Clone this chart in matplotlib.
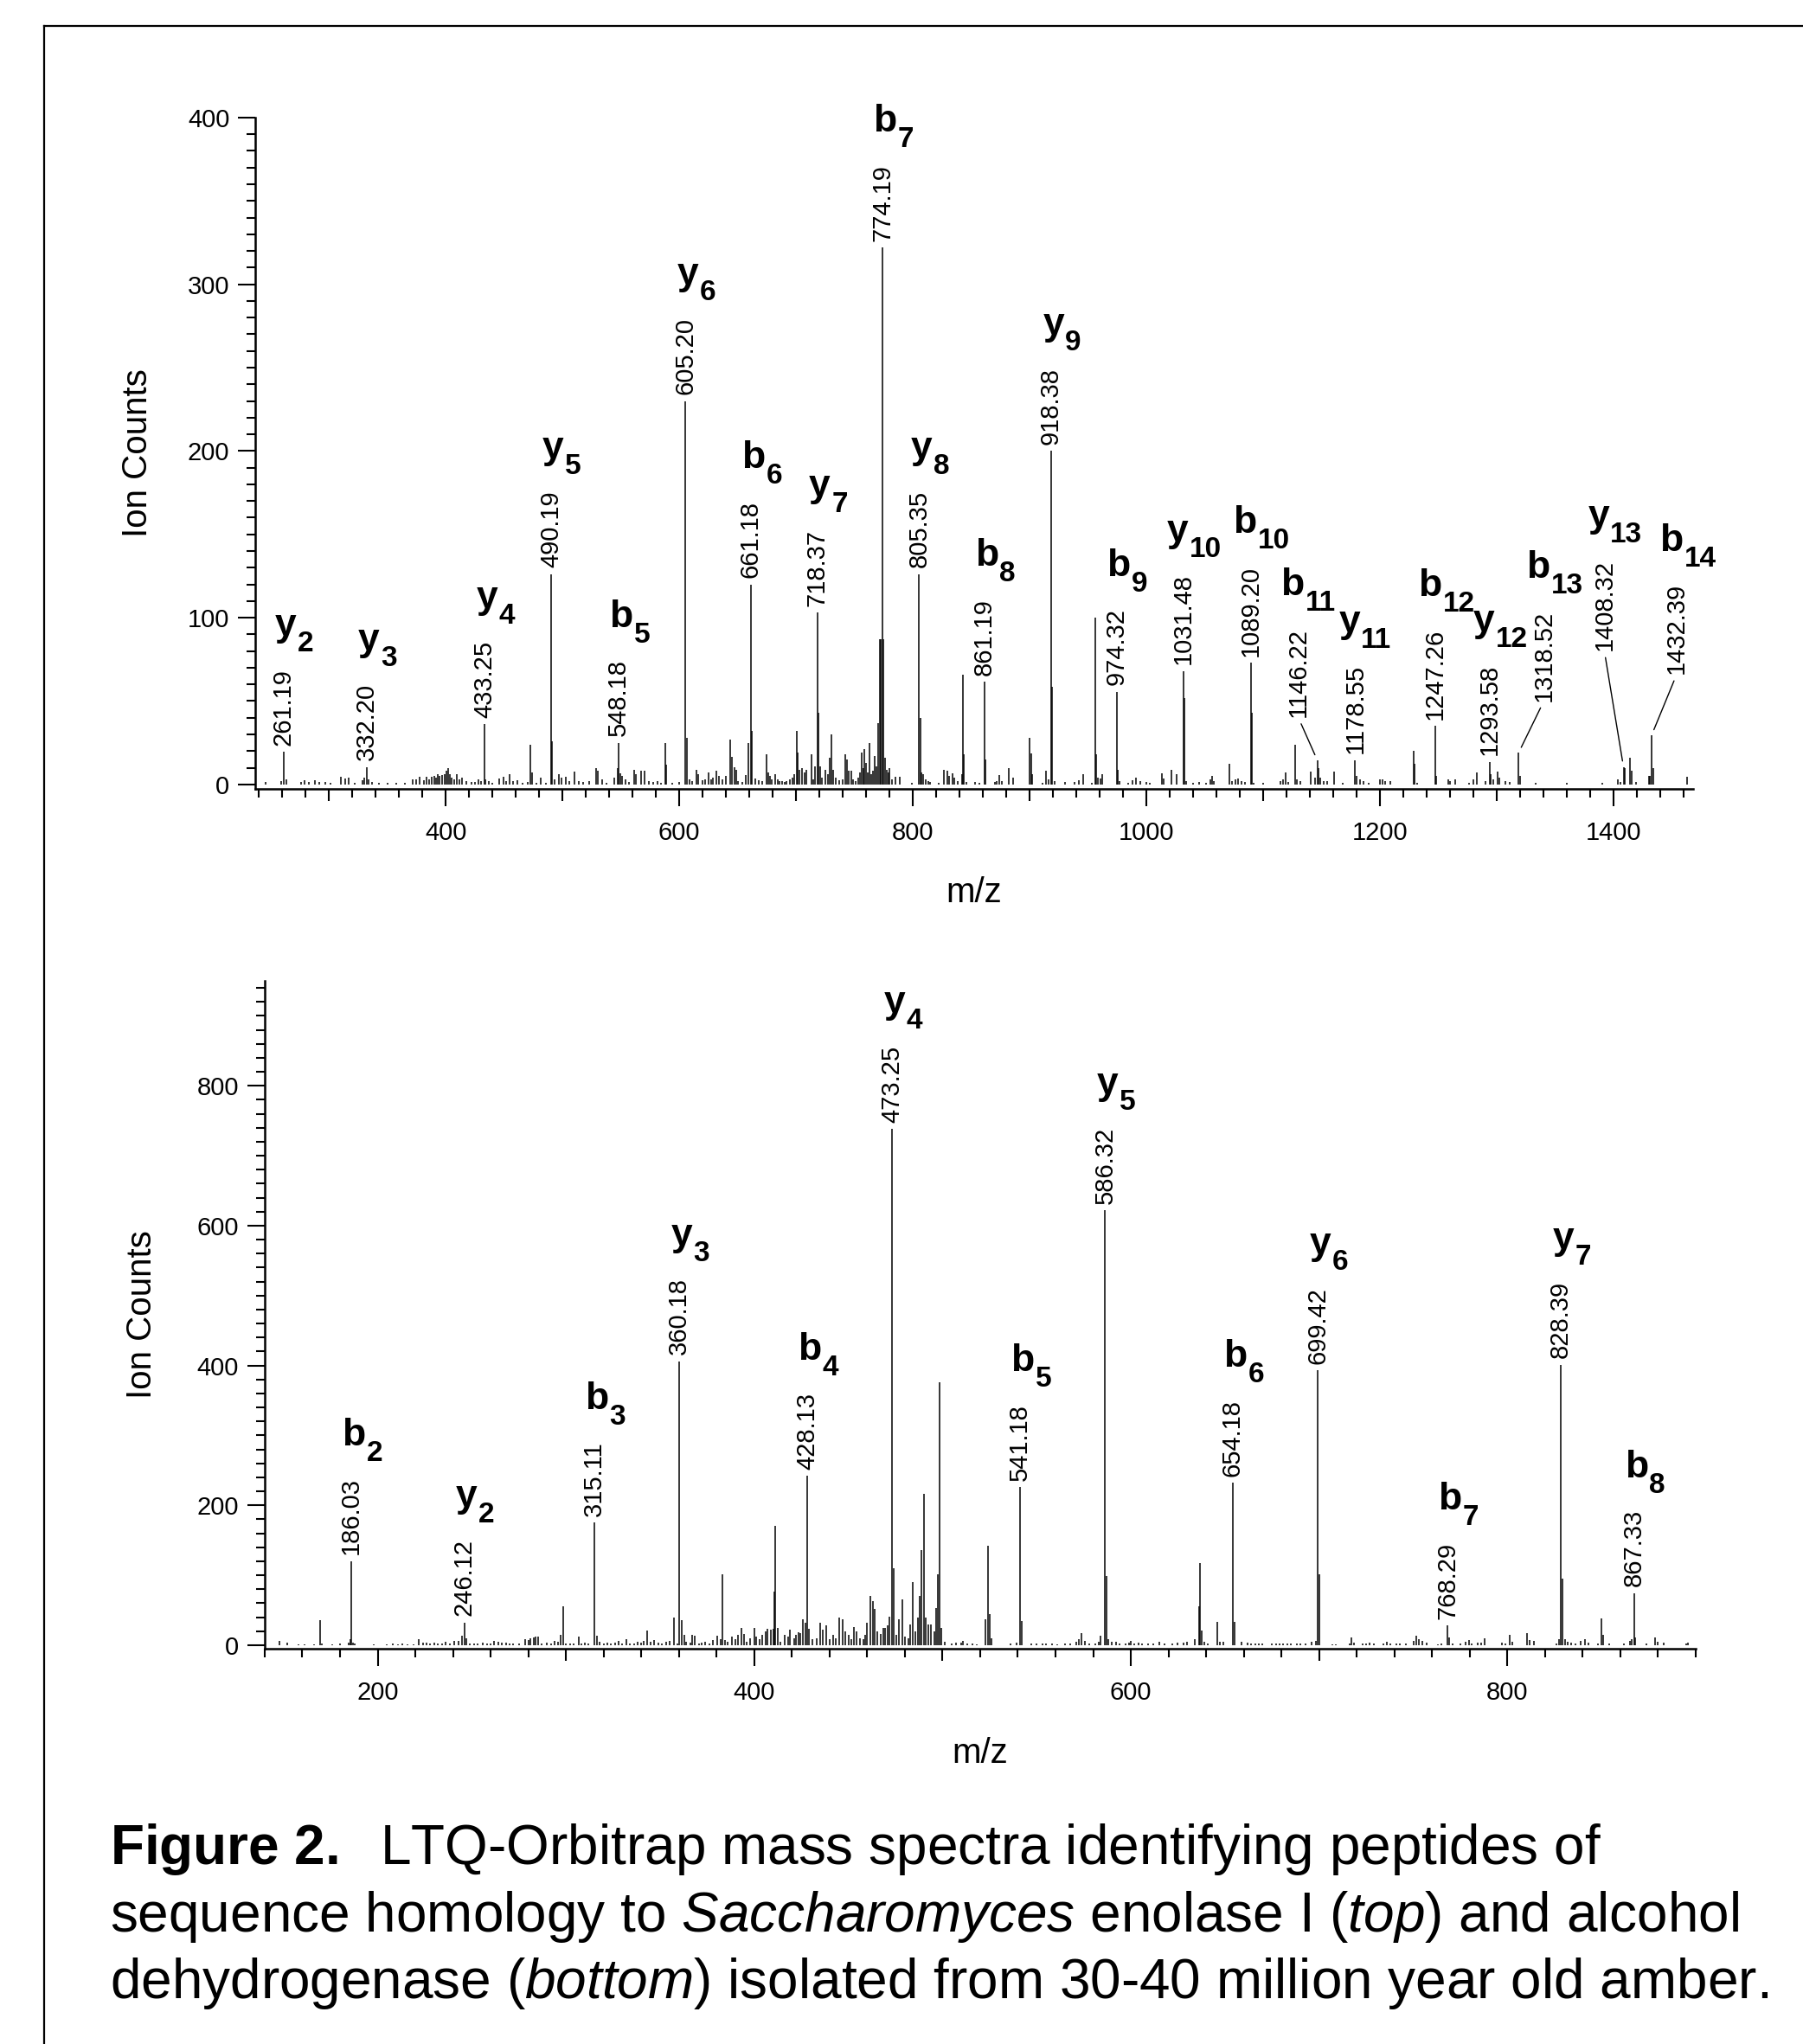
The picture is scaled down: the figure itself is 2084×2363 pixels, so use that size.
import matplotlib
matplotlib.use('Agg')
import matplotlib.pyplot as plt
from matplotlib.lines import Line2D
from matplotlib.text import Text
from matplotlib.ticker import MultipleLocator, FixedLocator, FuncFormatter

plt.rcParams['font.family'] = ['Liberation Sans', 'DejaVu Sans']
plt.rcParams['mathtext.fontset'] = 'custom'
plt.rcParams['mathtext.rm'] = 'Liberation Sans'
plt.rcParams['mathtext.it'] = 'Liberation Sans:italic'
plt.rcParams['mathtext.bf'] = 'Liberation Sans:bold'

# --- top spectrum (enolase peptide) ---
top_mz = [245.6, 259.5, 261.19, 263.5, 276, 279, 283, 288, 292, 297,
          301, 310.5, 314, 317, 322, 328.5, 330.5, 332.20, 334, 337,
          343, 350, 358, 365, 372, 375, 378, 381, 383.6, 386,
          388, 390, 392, 393.5, 395, 397, 399, 400.5, 401.9, 403.5,
          405, 407, 409.8, 412, 414, 418, 422, 425, 428, 430,
          433.25, 434.2, 437, 440, 446, 449.8, 452, 455, 458, 461,
          466, 470, 472.8, 474, 478, 481, 486, 490.19, 490.9, 493,
          496.7, 499, 502.8, 506, 510, 514, 518, 523, 528.5, 530,
          534, 538, 544, 547, 548.18, 549.5, 551, 554, 557, 561,
          563, 567.4, 570, 574, 578, 581, 584, 588, 589, 594,
          600, 605.20, 606.2, 609, 611, 614.6, 616.5, 620, 622, 625,
          627, 629, 631.8, 634, 637, 640, 643.7, 645, 647, 648.4,
          650, 654, 657, 659, 661.18, 662.2, 665, 668, 671, 674.9,
          675.8, 677.5, 679, 682, 684, 686, 688, 690, 692, 695,
          697, 698.7, 700.5, 701.3, 703, 705.3, 707, 709, 713.2, 715,
          716.5, 718.37, 719.2, 720.3, 722, 725, 727, 729, 730.4, 731.5,
          734, 737, 740, 742.3, 743.6, 745, 747, 749, 751, 753,
          755, 756, 757.5, 758.7, 760, 761.5, 762.7, 764.5, 766, 767,
          768.5, 770, 771.4, 772.8, 774.19, 774.9, 776, 777.5, 779, 780,
          782, 784.7, 789, 799, 805.35, 806.2, 807.5, 809, 811, 813,
          815, 822, 826.5, 829.6, 831, 833.6, 835.5, 838, 842, 843.1,
          843.9, 846, 853, 857, 861.19, 862, 870, 872, 874, 876,
          882, 886, 899.7, 901, 902.3, 911, 913.8, 916, 918.38, 919.1,
          921, 930, 938, 942, 946, 953, 955.8, 957, 958.2, 960.5,
          962, 974.32, 975.1, 977, 984, 988, 991, 995, 1000, 1003,
          1013, 1015, 1021.4, 1026, 1031.48, 1032.3, 1034, 1040, 1045, 1051,
          1055, 1056, 1057.5, 1070.6, 1073, 1076, 1078, 1081, 1084, 1089.20,
          1090.2, 1092, 1100, 1115, 1117, 1119, 1121.5, 1127.4, 1129, 1132,
          1140.3, 1144, 1146.22, 1147.2, 1149, 1152, 1155, 1160.4, 1168, 1178.55,
          1179.5, 1183, 1186, 1190, 1200, 1202, 1204, 1209, 1229, 1229.8,
          1232, 1247.26, 1248.2, 1258, 1260, 1264, 1276, 1280, 1282.4, 1290,
          1293.58, 1294.5, 1297, 1300.3, 1302, 1307, 1311, 1318.52, 1319.5, 1333,
          1360, 1390, 1403.7, 1406, 1408.32, 1409.5, 1413.6, 1415, 1419, 1430,
          1431, 1432.39, 1434, 1462.7]
top_int = [1.5, 2, 19.5, 3, 1.5, 2.5, 1.5, 2.5, 1.5, 1.5,
           1, 4.5, 3.5, 4, 1, 2.7, 4, 10.5, 3, 1.5,
           0.8, 0.8, 0.8, 1, 3, 3, 4.5, 2.5, 4.5, 3,
           4.5, 5, 4, 6, 5, 5.5, 6, 8, 10, 6,
           4, 3, 6, 3, 4, 2, 1.5, 1.5, 3, 2,
           36, 3, 2, 1, 3.5, 4.5, 2, 6, 2, 2.5,
           1, 1.5, 24, 7, 1, 4, 1, 126, 26, 3,
           6, 4, 4.5, 2, 7.5, 2, 1.5, 2, 10, 8,
           3, 1, 4, 10, 25, 6.5, 5, 3, 1.5, 9,
           6, 8, 8, 2, 1.5, 2, 1, 25, 12, 1,
           1.5, 230, 28, 3, 2, 9, 6, 2.5, 3, 7,
           3, 4, 8, 5, 3, 5, 27, 16.6, 10.5, 8.5,
           2, 1.5, 5.8, 25, 120, 32, 3.5, 2.5, 2, 18,
           7, 5, 3, 6, 3, 2, 2, 1.5, 2, 3,
           4, 6, 32, 19, 9, 10, 7, 8.5, 18, 3,
           11, 103, 43, 11, 4, 9, 6, 16, 30, 9,
           4, 2.5, 3, 18, 15, 8, 8, 3, 2, 4,
           7, 19, 10, 21, 13, 7, 25, 6, 8, 17,
           11, 37, 87, 87, 322, 87, 16, 9, 7, 10,
           3, 4.5, 4.5, 1, 126, 40, 7, 6, 3, 2,
           1.5, 1, 9, 8, 5, 6.7, 4, 2, 6, 66,
           18, 1.5, 1.5, 1, 61.5, 15, 1.5, 2, 5.8, 2,
           10, 4, 28, 18.7, 6, 1, 8, 3, 200, 58.5,
           2, 1.5, 1.5, 2.5, 6, 1, 100, 18, 4, 3.5,
           6, 55.4, 9, 2, 1, 2.5, 4, 2, 1.5, 1,
           6.7, 3.5, 9, 6, 68, 52, 2, 1, 1.5, 1,
           3, 5.3, 2, 12.6, 2, 3, 3.5, 2, 1.5, 73,
           43, 1, 1, 2, 3, 7.2, 1.5, 23.8, 3, 2,
           7.5, 4, 14.5, 10, 4, 2, 2, 7.5, 1, 14.5,
           5, 3, 2, 1, 3, 3, 2, 2, 20, 12.6,
           1, 35, 5, 3, 2, 3, 1, 3, 7, 2,
           13.6, 6, 3, 7.5, 4, 2, 1.5, 19, 5, 1,
           1, 1, 3, 1.5, 10.5, 10, 16, 8, 1.5, 5,
           5, 29.5, 10, 4.5]
top_labels = ['261.19', '332.20', '433.25', '490.19', '548.18', '605.20',
              '661.18', '718.37', '774.19', '805.35', '861.19', '918.38',
              '974.32', '1031.48', '1089.20', '1146.22', '1178.55', '1247.26',
              '1293.58', '1318.52', '1408.32', '1432.39']
top_ions = ['y2', 'y3', 'y4', 'y5', 'b5', 'y6', 'b6', 'y7', 'b7', 'y8', 'b8',
            'y9', 'b9', 'y10', 'b10', 'b11', 'y11', 'b12', 'y12', 'b13',
            'y13', 'b14']
# labels moved off their peak and joined by a leader line (offset in points)
top_leaders = {'1146.22': (-16, 36), '1318.52': (21, 43),
               '1408.32': (-16, 97), '1432.39': (21, 51)}

# --- bottom spectrum (alcohol dehydrogenase peptide) ---
bot_mz = [147.7, 152, 158, 161, 166, 169.3, 170.5, 176, 180, 184.5,
          185.3, 186.03, 187, 188, 198, 205, 208, 211, 213, 216,
          219, 222, 224, 226, 228, 230, 232, 234, 236, 238.5,
          240.5, 243, 244.8, 246.12, 247, 249, 251, 253, 256, 258,
          260, 262, 264, 266, 268, 270, 272, 275, 278.5, 280,
          281, 283, 284, 285, 287, 290, 292, 294, 296, 297.4,
          298.5, 300, 302, 304, 306.7, 308, 310, 312, 315.11, 316.4,
          318, 320, 322, 324, 326, 328, 330, 332, 334, 336,
          338, 340, 341.5, 343.3, 345, 347, 349, 351, 353, 355,
          357.2, 359, 360.18, 361.3, 362.8, 364, 366, 367, 368.5, 370.5,
          372, 374, 376, 378, 380.5, 382, 383.3, 384.5, 386, 388,
          390, 391.5, 393, 394.5, 396, 398, 400, 401, 403, 404,
          406, 407, 409, 410, 410.5, 411.3, 412.5, 414, 416, 418,
          419, 421, 422, 423.5, 424.5, 426, 427, 428.13, 429, 431,
          433, 435, 436.5, 438, 440, 442, 443.5, 445, 447, 448.5,
          450, 451.5, 453, 454.5, 456, 458, 459, 460, 461.6, 463,
          464, 465.5, 467, 468.5, 469.7, 471, 472, 473.25, 474, 475.5,
          477, 478.5, 480, 482, 483, 484, 485.5, 487, 488, 489,
          490, 491, 492.5, 494, 495.5, 496.6, 497.4, 498.5, 499.5, 501,
          505, 507, 510, 511, 513, 516, 518, 523, 524, 525,
          526, 536, 539.5, 541.18, 542, 547, 550, 553, 555, 558,
          561, 565, 568, 571, 572.5, 574, 575.5, 578, 581, 583,
          584, 586.32, 587, 588, 590, 592, 594, 597, 599, 600,
          602, 604, 606, 609, 612, 615, 618, 622, 625, 628,
          630, 634, 636.2, 636.9, 637.5, 639, 641, 645.8, 647.5, 649,
          654.18, 655.3, 659, 662, 664, 666, 668, 670, 675, 677,
          679, 681, 683, 685, 688, 690, 693, 696, 698.5, 699.42,
          700.3, 707, 709, 716, 717, 718.5, 723, 725, 727, 729,
          734, 736, 738, 741, 743, 746, 750, 751.7, 753, 755,
          757, 763, 765, 768.29, 769, 771, 775, 778, 779.5, 781,
          784, 786, 788, 797, 799, 801, 802.5, 810.5, 812, 814,
          826, 827.5, 828.39, 829.2, 830.5, 832, 834, 836, 839, 841,
          843, 848, 850, 851, 854, 862, 865, 866, 867.33, 868,
          874, 878.5, 880, 883, 895, 896]
bot_int = [6, 4, 1.5, 1, 1.5, 36, 2, 1.5, 2, 4,
           8, 120, 4, 2, 1.5, 1, 2, 1.5, 2, 1.5,
           1.5, 9, 3.5, 4, 3, 4, 3, 2.5, 5, 2,
           6, 6, 13, 32, 10, 3, 2, 2, 4, 3,
           2, 6, 5, 3.5, 4, 2, 3, 2, 9, 7,
           10, 11, 12, 12, 3, 4, 3, 6, 5, 15,
           55, 3, 2, 3, 12, 3, 4, 2, 175, 14,
           5, 3, 4, 2, 4, 6, 3, 9, 3, 2,
           5, 4, 6, 21, 5, 7, 4, 3, 5, 6,
           40, 3, 406, 36, 15, 5, 4, 15, 14, 2,
           4, 5, 3, 7, 14, 8, 101, 7, 5, 12,
           8, 15, 25, 16, 5, 10, 25, 12, 8, 15,
           20, 24, 22, 24, 77, 171, 25, 5, 15, 12,
           22, 10, 15, 18, 17, 37, 32, 242, 24, 9,
           10, 32, 22, 28, 8, 15, 10, 40, 37, 20,
           15, 8, 26, 20, 10, 8, 15, 32, 71, 63,
           52, 20, 16, 25, 25, 28, 41, 738, 110, 15,
           37, 66, 12, 10, 30, 90, 20, 40, 70, 136,
           216, 40, 30, 30, 20, 53, 101, 376, 25, 5,
           2, 4, 4, 6, 2, 3, 1.5, 37, 142, 44,
           10, 2, 4, 226, 35, 2, 3, 3, 2, 2.5,
           1.5, 2, 3, 5, 8, 17, 6, 2, 2, 5,
           13, 622, 99, 8, 5, 5, 2, 2, 4, 6,
           3, 4, 3, 2, 3, 5, 2, 3, 4, 4,
           5, 9, 55, 117, 21, 5, 3, 33, 5, 5,
           232, 33, 5, 4, 3, 3, 3, 2, 2, 3,
           2, 3, 2, 2, 3, 2, 3, 5, 6, 393,
           101, 1.5, 1.5, 3, 11, 4, 3, 3, 4, 3,
           3, 5, 3, 2, 2, 3, 6, 13, 9, 6,
           4, 1.5, 2, 28, 11, 3, 2, 5, 7, 3,
           4, 4, 10, 4, 3, 15, 5, 17, 7, 6,
           3, 8, 401, 95, 8, 5, 4, 3, 6, 9,
           4, 2, 38, 15, 3, 3, 6, 9, 74, 11,
           3, 11, 5, 4, 2, 4]
bot_labels = ['186.03', '246.12', '315.11', '360.18', '428.13', '473.25',
              '541.18', '586.32', '654.18', '699.42', '768.29', '828.39',
              '867.33']
bot_ions = ['b2', 'y2', 'b3', 'y3', 'b4', 'y4', 'b5', 'y5', 'b6', 'y6',
            'b7', 'y7', 'b8']

caption = [r'$\mathbf{Figure\ 2.}$  LTQ-Orbitrap mass spectra identifying peptides of',
           r'sequence homology to $\mathit{Saccharomyces}$ enolase I ($\mathit{top}$) and alcohol',
           r'dehydrogenase ($\mathit{bottom}$) isolated from 30-40 million year old amber.']

PX = 72 / 100.0   # points per pixel at dpi 100
ION_SIZE = 32
SUB_SIZE = 24


def text_box(t):
    def f(renderer):
        t.update_positions(renderer)
        return Text.get_window_extent(t, renderer)
    return f


def spectrum(ax, mz, inten, labels, ions, leaders, xlim, ylim, ymajor, yminor, xmajor):
    ax.vlines(mz, 0, inten, color='black', lw=1.1)
    ax.set_xlim(*xlim)
    ax.set_ylim(*ylim)
    for s in ['top', 'right']:
        ax.spines[s].set_visible(False)
    for s in ['left', 'bottom']:
        ax.spines[s].set_linewidth(1.8)

    ax.yaxis.set_major_locator(MultipleLocator(ymajor))
    ax.yaxis.set_minor_locator(MultipleLocator(yminor))
    ax.xaxis.set_major_locator(FixedLocator(xmajor))
    ax.xaxis.set_minor_locator(MultipleLocator(20))
    ax.xaxis.set_major_formatter(FuncFormatter(lambda v, p: '%d' % v if round(v) % 200 == 0 else ''))
    ax.tick_params(which='major', length=20 * PX, width=1.5, direction='out', labelsize=21)
    ax.tick_params(which='minor', length=10 * PX, width=1.5, direction='out')
    ax.tick_params(axis='y', which='major', pad=7)
    ax.tick_params(axis='x', which='major', pad=12)
    for t, v in zip(ax.xaxis.get_major_ticks(), xmajor):
        if round(v) % 200:
            t.tick1line.set_markersize(14 * PX)

    for lab, ion in zip(labels, ions):
        m = float(lab)
        h = max(i for x, i in zip(mz, inten) if abs(x - m) < 0.5)
        if lab in leaders:
            num = ax.annotate(lab, xy=(m, h), xytext=leaders[lab], textcoords='offset points',
                              rotation=90, ha='center', va='bottom', fontsize=21,
                              arrowprops=dict(arrowstyle='-', lw=1.0, color='black',
                                              shrinkA=4, shrinkB=5, relpos=(0.5, 0)))
        else:
            num = ax.annotate(lab, xy=(m, h), xytext=(0, 5.5), textcoords='offset points',
                              rotation=90, ha='center', va='bottom', fontsize=21)
        # ion name: bold letter with a large, low bold subscript
        letter, digits = ion[0], ion[1:]
        w = (0.611 if letter == 'b' else 0.556) * ION_SIZE + 0.556 * SUB_SIZE * len(digits)
        main = ax.annotate(letter, xy=(0.5, 1), xycoords=text_box(num),
                           xytext=(8.5 - w / 2, 27), textcoords='offset points',
                           ha='left', va='baseline', fontsize=ION_SIZE, fontweight='bold')
        ax.annotate(digits, xy=(1, 0), xycoords=text_box(main),
                    xytext=(1, -6.5), textcoords='offset points',
                    ha='left', va='baseline', fontsize=SUB_SIZE, fontweight='bold')

    ax.set_xlabel('m/z', fontsize=29)
    ax.set_ylabel('Ion Counts', fontsize=29)
    ax.xaxis.label.set_va('center')
    ax.yaxis.label.set_va('center')


fig = plt.figure(figsize=(20.84, 23.63), dpi=100)

ax1 = fig.add_axes([0.1416, 0.6141, 0.7975, 0.3284])
spectrum(ax1, top_mz, top_int, top_labels, top_ions, top_leaders,
         (237, 1468), (-2.6, 400), 100, 10, list(range(300, 1401, 100)))
ax1.xaxis.set_label_coords(0.5, -0.155)
ax1.yaxis.set_label_coords(-0.082, 0.5)

ax2 = fig.add_axes([0.1468, 0.1934, 0.7937, 0.3267])
spectrum(ax2, bot_mz, bot_int, bot_labels, bot_ions, {},
         (140, 900), (-5, 950), 200, 20, list(range(200, 801, 100)))
ax2.xaxis.set_label_coords(0.5, -0.157)
ax2.yaxis.set_label_coords(-0.086, 0.5)

# caption
for k, line in enumerate(caption):
    fig.text(0.061, 0.088 - k * 0.0328, line, fontsize=46, ha='left', va='baseline')

# frame (only top and left edges fall inside the picture)
fig.add_artist(Line2D([0.0245, 1.0], [0.9873, 0.9873], transform=fig.transFigure, color='black', lw=1.6))
fig.add_artist(Line2D([0.0245, 0.0245], [0.9873, 0.0], transform=fig.transFigure, color='black', lw=1.6))

fig.savefig('out.png', dpi=100)
